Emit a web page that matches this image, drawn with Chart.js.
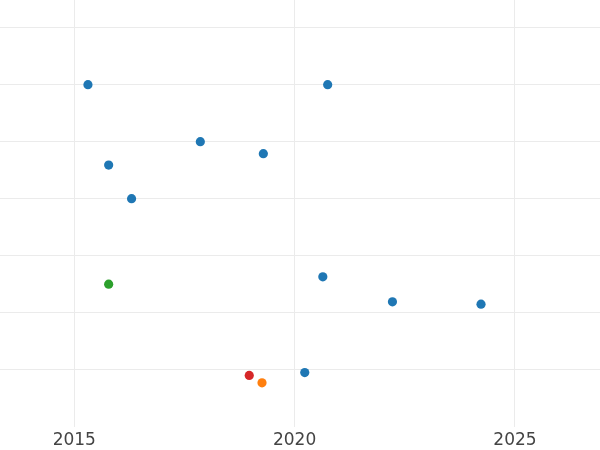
<!DOCTYPE html>
<html>
<head>
<meta charset="utf-8">
<script src="https://cdn.jsdelivr.net/npm/chart.js@4/dist/chart.umd.min.js"></script>
<style>
html,body{margin:0;padding:0;background:#fff;}
#wrap{width:600px;height:450px;position:relative;}
</style>
</head>
<body>
<div id="wrap"><canvas id="c"></canvas></div>
<script>
// Data
const blueYears  = [2015.31, 2015.78, 2016.30, 2017.86, 2019.29, 2020.75, 2020.64, 2022.22, 2024.23, 2020.23];
const blueValues = [6.00,    4.59,    4.00,    5.00,    4.79,    6.00,    2.63,    2.19,    2.15,    0.95];
const greenYears  = [2015.78];
const greenValues = [2.50];
const redYears  = [2018.97];
const redValues = [0.90];
const orangeYears  = [2019.26];
const orangeValues = [0.77];
const xTicks = [2015, 2020, 2025];
const yTicks = [1, 2, 3, 4, 5, 6, 7];

const toPts = (xs, ys) => xs.map((x, i) => ({x: x, y: ys[i]}));
const mk = (label, xs, ys, color) => ({
  label: label, data: toPts(xs, ys),
  backgroundColor: color, borderColor: color,
  pointRadius: 4.6, pointHoverRadius: 4.6, borderWidth: 0
});

new Chart(document.getElementById('c'), {
  type: 'scatter',
  data: {
    datasets: [
      mk('blue', blueYears, blueValues, '#1f77b4'),
      mk('green', greenYears, greenValues, '#2ca02c'),
      mk('red', redYears, redValues, '#d62728'),
      mk('orange', orangeYears, orangeValues, '#ff7f0e')
    ]
  },
  options: {
    responsive: true,
    maintainAspectRatio: false,
    animation: false,
    layout: {padding: 0, autoPadding: false},
    plugins: {legend: {display: false}, tooltip: {enabled: false}},
    scales: {
      x: {
        type: 'linear',
        min: 2013.314,
        max: 2026.93,
        afterBuildTicks: (s) => { s.ticks = xTicks.map(v => ({value: v})); },
        afterFit: (s) => { s.height = 23.3; },
        grid: {color: '#ebebeb', lineWidth: 1, drawTicks: false},
        border: {display: false},
        ticks: {
          color: '#444444',
          padding: 4.5,
          font: {family: 'DejaVu Sans', size: 17, lineHeight: 1.06},
          callback: (v) => String(v),
          maxRotation: 0
        }
      },
      y: {
        type: 'linear',
        min: 0,
        max: 7.486,
        afterBuildTicks: (s) => { s.ticks = yTicks.map(v => ({value: v})); },
        grid: {color: '#ebebeb', lineWidth: 1, drawTicks: false},
        border: {display: false},
        ticks: {display: false}
      }
    }
  }
});
</script>
</body>
</html>
